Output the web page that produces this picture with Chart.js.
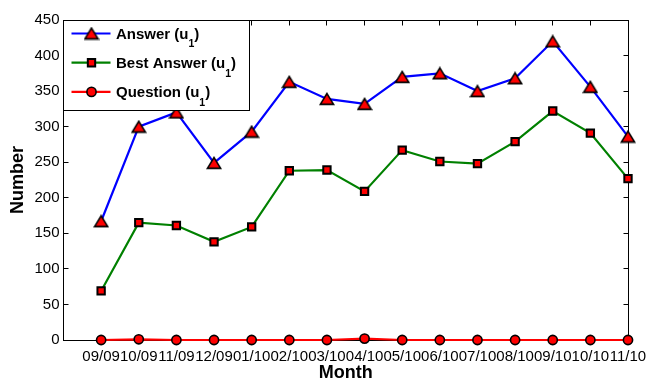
<!DOCTYPE html>
<html><head><meta charset="utf-8">
<script src="https://cdn.jsdelivr.net/npm/chart.js@4/dist/chart.umd.min.js"></script>
<style>html,body{margin:0;padding:0;background:#fff}#wrap{width:649px;height:379px}</style>
</head><body><div id="wrap"><canvas id="c" width="649" height="379"></canvas></div>
<script>
// ---- data ----
const months = ['09/09','10/09','11/09','12/09','01/10','02/10','03/10','04/10','05/10','06/10','07/10','08/10','09/10','10/10','11/10'];
const answer = [167,300,320,249,293,363,339,332,370,375,350,368,420,356,286];
const bestAnswer = [69,165,161,138,159,238,239,209,267,251,248,279,322,291,227];
const question = [0,1,0,0,0,0,0,2,0,0,0,0,0,0,0];
const seriesLabels = ['Answer (u_1)','Best Answer (u_1)','Question (u_1)'];
const yMax = 450, yStep = 50;
const xLabel = 'Month', yLabel = 'Number';

const FONT = "'Liberation Sans', Arial, Helvetica, sans-serif";
const toXY = arr => arr.map((v,i)=>({x:i+1,y:v}));

// MATLAB-style '^' marker, centred on its bounding box
const tri = document.createElement('canvas');
tri.width = 16; tri.height = 14;
(function(){
  const c = tri.getContext('2d');
  c.fillStyle = '#ff0000'; c.strokeStyle = '#000'; c.lineWidth = 1.6; c.lineJoin = 'miter';
  c.beginPath(); c.moveTo(8, 1.6); c.lineTo(14.6, 12.4); c.lineTo(1.4, 12.4); c.closePath();
  c.fill(); c.stroke();
})();

const frame = {
  id:'frame',
  beforeDatasetsDraw(chart){
    const {ctx, chartArea:a, scales:{x,y}} = chart;
    const L=Math.floor(a.left)+0.5, R=Math.floor(a.right)+0.5, T=Math.floor(a.top)+0.5, B=Math.floor(a.bottom)+0.5;
    const len=5;
    ctx.save();
    ctx.strokeStyle='#000'; ctx.lineWidth=1;
    ctx.beginPath();
    y.ticks.forEach(t=>{const p=Math.floor(y.getPixelForValue(t.value))+0.5;
      ctx.moveTo(L,p);ctx.lineTo(L+len,p);ctx.moveTo(R,p);ctx.lineTo(R-len,p);});
    x.ticks.forEach(t=>{const p=Math.floor(x.getPixelForValue(t.value))+0.5;
      ctx.moveTo(p,T);ctx.lineTo(p,T+len);ctx.moveTo(p,B);ctx.lineTo(p,B-len);});
    ctx.stroke();
    ctx.strokeRect(L,T,R-L,B-T);
    ctx.restore();
  }
};

function drawMarker(ctx, style, x, y, r, bw){
  if (style instanceof HTMLCanvasElement){
    ctx.drawImage(style, x - style.width/2, y - style.height/2); return;
  }
  ctx.save();
  ctx.fillStyle='#ff0000'; ctx.strokeStyle='#000'; ctx.lineWidth=bw;
  ctx.beginPath();
  if(style==='rect'){
    const s=Math.SQRT1_2*r; ctx.rect(x-s,y-s,2*s,2*s);
  } else { ctx.arc(x,y,r,0,2*Math.PI); }
  ctx.fill(); ctx.stroke(); ctx.restore();
}

const mlLegend = {
  id:'mlLegend',
  afterDraw(chart){
    const {ctx, chartArea:a} = chart;
    const x0=Math.floor(a.left)+0.5, y0=Math.floor(a.top)+0.5, w=186, h=90;
    ctx.save();
    ctx.fillStyle='#fff'; ctx.fillRect(x0,y0,w,h);
    ctx.strokeStyle='#000'; ctx.lineWidth=1; ctx.strokeRect(x0,y0,w,h);
    chart.data.datasets.forEach((ds,i)=>{
      const cy = a.top + 13.5 + i*29.2;
      ctx.strokeStyle=ds.borderColor; ctx.lineWidth=2.2;
      ctx.beginPath(); ctx.moveTo(x0+8,cy); ctx.lineTo(x0+47,cy); ctx.stroke();
      drawMarker(ctx, ds.pointStyle, x0+28, cy, ds.pointRadius, ds.pointBorderWidth);
      const parts = ds.label.split('_');
      const main = parts[0], sub = parts[1].slice(0,1), tail = parts[1].slice(1);
      ctx.fillStyle='#000'; ctx.textBaseline='alphabetic'; ctx.textAlign='left';
      let tx = x0+52.5, base = cy+5.4;
      ctx.font = "bold 15px "+FONT; ctx.fillText(main, tx, base); tx += ctx.measureText(main).width;
      ctx.font = "bold 10.5px "+FONT; ctx.fillText(sub, tx, base+8.5); tx += ctx.measureText(sub).width;
      ctx.font = "bold 15px "+FONT; ctx.fillText(tail, tx, base);
    });
    ctx.restore();
  }
};

const mk = (label, data, color, style, r, bw) => ({
  label, data: toXY(data), borderColor: color, backgroundColor: color, borderWidth: 2.2,
  pointStyle: style, pointRadius: r, pointHoverRadius: r, pointBorderWidth: bw,
  pointBackgroundColor: '#ff0000', pointBorderColor: '#000', tension: 0, clip: false
});

new Chart(document.getElementById('c'), {
  type: 'line',
  data: { datasets: [
    mk(seriesLabels[0], answer, '#0000ff', tri, 7, 1.6),
    mk(seriesLabels[1], bestAnswer, '#008000', 'rect', 5.2, 2),
    mk(seriesLabels[2], question, '#ff0000', 'circle', 4.6, 1.6)
  ]},
  options: {
    responsive: false, animation: false, devicePixelRatio: 1, events: [],
    layout: { padding: { top: 20, right: 21, left: 0, bottom: 0 } },
    plugins: { legend: { display: false }, tooltip: { enabled: false } },
    scales: {
      x: {
        type: 'linear', min: 0, max: months.length,
        afterFit: s => { s.height = 39; s.paddingLeft = 0; s.paddingRight = 0; },
        grid: { display: false, drawTicks: false },
        border: { display: false },
        ticks: { stepSize: 1, autoSkip: false, maxRotation: 0, padding: 8, color: '#000',
          font: { family: FONT, size: 15 },
          callback: v => (v >= 1 && v <= months.length) ? months[v-1] : '' },
        title: { display: true, text: xLabel, color: '#000', padding: { top: 0, bottom: -3 },
          font: { family: FONT, size: 18, weight: 'bold', lineHeight: 1 } }
      },
      y: {
        min: 0, max: yMax,
        afterFit: s => { s.width = 63.5; s.paddingTop = 0; s.paddingBottom = 0; },
        grid: { display: false, drawTicks: false },
        border: { display: false },
        ticks: { stepSize: yStep, padding: 4, color: '#000', font: { family: FONT, size: 15 } },
        title: { display: true, text: yLabel, color: '#000', padding: { top: 9.5, bottom: 0 },
          font: { family: FONT, size: 18, weight: 'bold', lineHeight: 1 } }
      }
    }
  },
  plugins: [frame, mlLegend]
});
</script></body></html>
